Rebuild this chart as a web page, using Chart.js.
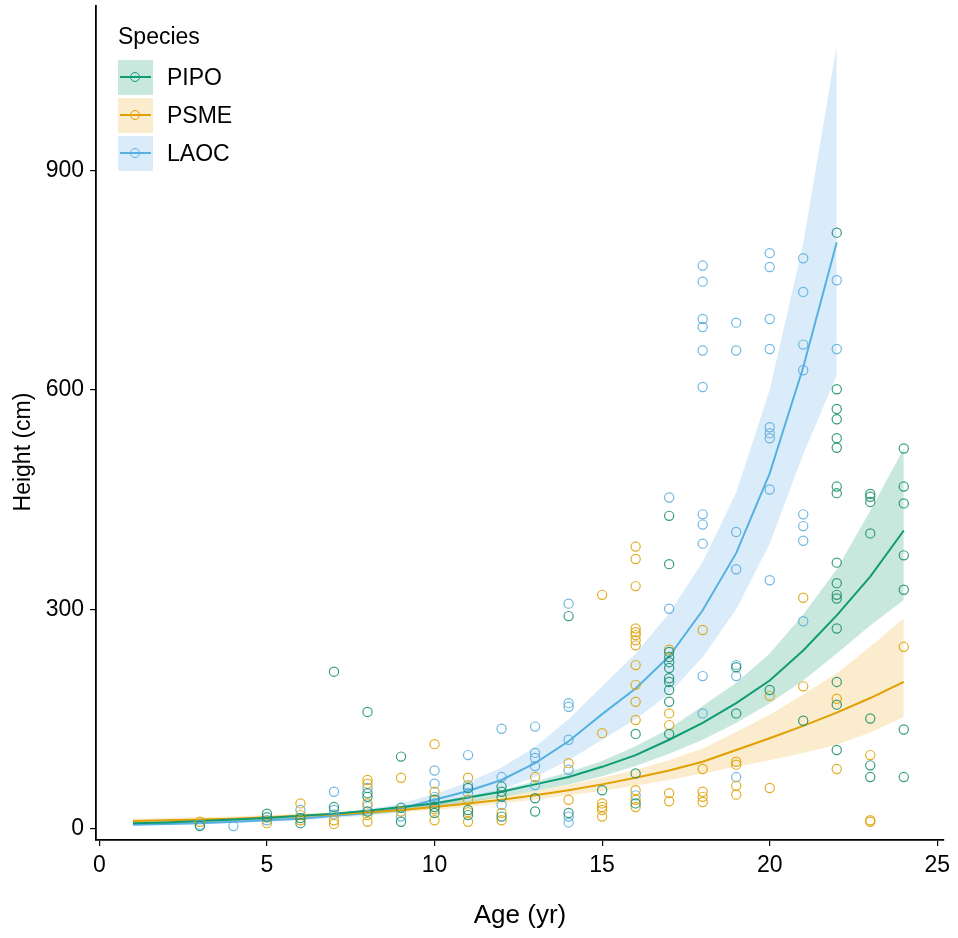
<!DOCTYPE html>
<html>
<head>
<meta charset="utf-8">
<script src="https://cdn.jsdelivr.net/npm/chart.js@4.4.1/dist/chart.umd.min.js"></script>
<style>
  html, body { margin: 0; padding: 0; background: #fff; }
  #wrap { position: relative; width: 958px; height: 938px; }
  #legend { position: absolute; left: 118px; top: 21px; font-family: "Liberation Sans", Arial, sans-serif; color: #000; }
  #legend .title { font-size: 23px; line-height: 30px; margin-bottom: 7px; }
  #legend .row { display: flex; align-items: center; height: 38px; }
  #legend .key { position: relative; width: 35px; height: 35px; margin-right: 14px; }
  #legend .key .ln { position: absolute; left: 2px; right: 2px; top: 16.5px; height: 2px; }
  #legend .key .pt { position: absolute; left: 12px; top: 12px; width: 8px; height: 8px; border-radius: 50%; border: 1.3px solid; background: transparent; }
  #legend .lab { font-size: 23px; }
  #ytitle { position: absolute; left: 22px; top: 452px; width: 200px; height: 30px; margin-left: -100px; margin-top: -15px;
    transform: rotate(-90deg); text-align: center; line-height: 30px; font-family: "Liberation Sans", Arial, sans-serif; font-size: 23px; color: #000; }
</style>
</head>
<body>
<div id="wrap">
  <canvas id="c" width="958" height="938"></canvas>
  <div id="legend"></div>
  <div id="ytitle">Height (cm)</div>
</div>
<script>
// ---------------- DATA ----------------
const species = ["PIPO", "PSME", "LAOC"];

// fitted curves (age, fit, upper, lower)
const pipoCurveAge = [1,2,3,4,5,6,7,8,9,10,11,12,13,14,15,16,17,18,19,20,21,22,23,24];
const pipoFit   = [8,9,11,13,15,18,21,25,30,35,43,51,61,71,85,101,122,145,172,203,244,292,345,408];
const pipoUpper = [10,11,12,14,16,19,22,26,31,37,45,54,65,78,93,113,137,168,200,240,293,355,435,520];
const pipoLower = [6,7,9,10,12,14,17,20,24,30,36,44,52,61,72,86,103,122,145,172,203,240,278,313];

const psmeCurveAge = [1,2,3,4,5,6,7,8,9,10,11,12,13,14,15,16,17,18,19,20,21,22,23,24];
const psmeFit   = [11,12,13,14,16,18,20,23,26,30,35,40,46,53,61,70,80,92,108,124,141,159,179,201];
const psmeUpper = [14,15,16,17,19,21,23,26,30,34,39,45,52,60,70,81,94,110,133,156,184,213,249,288];
const psmeLower = [8,9,10,12,13,15,17,20,23,26,30,35,40,46,52,59,67,76,85,94,104,115,132,153];

const laocCurveAge = [1,2,3,4,5,6,7,8,9,10,11,12,13,14,15,16,17,18,19,20,21,22];
const laocFit   = [6,7,8,10,12,14,18,22,28,40,52,67,90,120,157,192,236,299,377,486,631,802];
const laocUpper = [8,9,10,12,14,17,21,27,35,48,64,84,112,150,195,240,295,365,460,600,800,1071];
const laocLower = [5,6,7,8,10,12,15,18,23,31,41,54,71,94,122,150,185,235,300,390,512,620];

// observed trees
const pipoAge = [3,5,5,6,6,7,7,8,8,8,8,9,9,9,10,10,10,11,11,11,12,12,12,12,13,13,14,14,15,16,16,16,
  17,17,17,17,17,17,17,17,17,17,17,19,19,20,21,
  22,22,22,22,22,22,22,22,22,22,22,22,22,22,22,22,
  23,23,23,23,23,23,23,24,24,24,24,24,24,24];
const pipoHeight = [4,21,16,15,8,215,30,160,49,44,24,99,29,10,40,30,22,56,26,19,58,51,44,17,42,24,291,22,53,130,76,35,
  428,362,242,235,228,220,206,201,190,174,130,221,158,190,148,
  815,601,574,560,534,521,468,459,364,336,320,315,274,201,170,108,
  458,454,447,404,151,87,71,520,468,445,374,327,136,71];

const psmeAge = [3,5,6,6,6,7,7,8,8,8,8,8,9,9,10,10,10,10,11,11,11,11,12,12,13,14,14,
  15,15,15,15,15,15,16,16,16,16,16,16,16,16,16,16,16,16,16,16,16,
  17,17,17,17,17,18,18,18,18,18,19,19,19,19,20,20,21,21,22,22,23,23,23,24];
const psmeHeight = [10,8,35,19,12,12,7,67,62,35,19,10,70,24,116,51,27,12,70,40,23,10,22,12,71,90,40,
  320,131,35,30,26,17,386,369,332,274,269,265,258,251,224,197,174,149,53,40,30,
  245,158,142,49,38,272,82,51,44,37,92,88,59,47,182,56,316,195,178,82,101,12,10,249];

const laocAge = [3,4,5,6,7,7,7,8,8,9,10,10,10,10,11,11,11,12,12,12,13,13,13,13,13,
  14,14,14,14,14,14,14,16,17,17,
  18,18,18,18,18,18,18,18,18,18,18,19,19,19,19,19,19,19,
  20,20,20,20,20,20,20,20,20,21,21,21,21,21,21,21,21,22,22];
const laocHeight = [6,4,12,26,51,26,20,56,31,17,80,62,44,35,101,60,49,137,71,33,140,104,97,86,60,
  308,172,167,122,81,17,9,46,453,301,
  770,748,697,686,654,604,430,416,390,209,158,692,654,406,355,224,209,71,
  787,768,697,656,549,541,534,464,340,780,734,662,627,430,414,394,284,750,656];

// axis ticks
const xTicks = [0,5,10,15,20,25];
const yTicks = [0,300,600,900];

// ---------------- STYLE ----------------
const colors = { PIPO: "#0f9c74", PSME: "#e1a000", LAOC: "#56b0e0" };
const bandColors = { PIPO: "rgba(27,158,119,0.24)", PSME: "rgba(240,170,30,0.22)", LAOC: "rgba(86,170,233,0.22)" };
const pointColors = { PIPO: "rgba(20,140,105,0.85)", PSME: "rgba(220,160,0,0.85)", LAOC: "rgba(86,170,220,0.85)" };
const FONT = "'Liberation Sans', Arial, sans-serif";

function pts(xs, ys) { return xs.map((x, i) => ({ x: x, y: ys[i] })); }

const curves = {
  PIPO: [pipoCurveAge, pipoFit, pipoUpper, pipoLower],
  PSME: [psmeCurveAge, psmeFit, psmeUpper, psmeLower],
  LAOC: [laocCurveAge, laocFit, laocUpper, laocLower]
};
const obs = {
  PIPO: [pipoAge, pipoHeight],
  PSME: [psmeAge, psmeHeight],
  LAOC: [laocAge, laocHeight]
};

const datasets = [];
species.forEach(sp => {
  const [a, f, u, l] = curves[sp];
  datasets.push({ type: "line", label: sp + " upper", data: pts(a, u), borderWidth: 0, pointRadius: 0,
    backgroundColor: bandColors[sp], borderColor: "rgba(0,0,0,0)", fill: "+1", order: 5, tension: 0 });
  datasets.push({ type: "line", label: sp + " lower", data: pts(a, l), borderWidth: 0, pointRadius: 0,
    borderColor: "rgba(0,0,0,0)", fill: false, order: 5, tension: 0 });
});
species.forEach(sp => {
  const [a, f] = curves[sp];
  datasets.push({ type: "line", label: sp, data: pts(a, f), borderColor: colors[sp], borderWidth: 2,
    pointRadius: 0, fill: false, order: 3, tension: 0 });
});
species.forEach(sp => {
  const [xa, ya] = obs[sp];
  datasets.push({ type: "scatter", label: sp + " obs", data: pts(xa, ya), pointStyle: "circle",
    pointRadius: 4.6, pointBorderWidth: 1.2, borderColor: pointColors[sp], backgroundColor: "rgba(0,0,0,0)",
    pointBackgroundColor: "rgba(0,0,0,0)", pointBorderColor: pointColors[sp], order: 1 });
});

new Chart(document.getElementById("c"), {
  type: "scatter",
  data: { datasets: datasets },
  options: {
    responsive: false,
    animation: false,
    events: [],
    layout: { padding: { top: 5, right: 14, left: 0, bottom: 0 } },
    plugins: { legend: { display: false }, tooltip: { enabled: false } },
    scales: {
      x: {
        type: "linear", min: -0.1, max: 25.2,
        afterBuildTicks: s => { s.ticks = xTicks.map(v => ({ value: v })); },
        afterFit: s => { s.height = 98; s.paddingLeft = 0; s.paddingRight = 0; },
        grid: { drawOnChartArea: false, drawTicks: true, tickLength: 6, color: "#000", lineWidth: 1.2 },
        border: { display: true, color: "#000", width: 1.8 },
        ticks: { color: "#000", font: { family: FONT, size: 23 }, padding: 6 },
        title: { display: true, text: "Age (yr)", color: "#000", font: { family: FONT, size: 26 }, padding: { top: 0, bottom: 7 } }
      },
      y: {
        type: "linear", min: -15, max: 1125,
        afterBuildTicks: s => { s.ticks = yTicks.map(v => ({ value: v })); },
        afterFit: s => { s.width = 96; s.paddingTop = 0; s.paddingBottom = 0; },
        grid: { drawOnChartArea: false, drawTicks: true, tickLength: 6, color: "#000", lineWidth: 1.2 },
        border: { display: true, color: "#000", width: 1.8 },
        ticks: { color: "#000", font: { family: FONT, size: 23 }, padding: 6 },
        title: { display: false }
      }
    }
  }
});

// HTML legend
const lg = document.getElementById("legend");
let html = '<div class="title">Species</div>';
species.forEach(sp => {
  html += '<div class="row"><div class="key" style="background:' + bandColors[sp] + '">' +
    '<div class="ln" style="background:' + colors[sp] + '"></div>' +
    '<div class="pt" style="border-color:' + colors[sp] + '"></div></div>' +
    '<div class="lab">' + sp + '</div></div>';
});
lg.innerHTML = html;
</script>
</body>
</html>
